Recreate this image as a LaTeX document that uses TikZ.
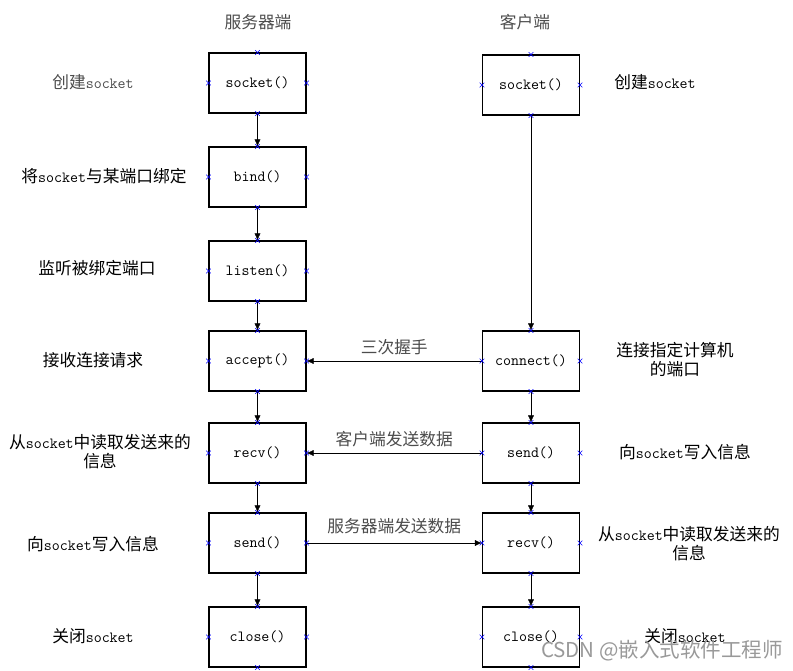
\documentclass[tikz,border=0pt]{standalone}
\usepackage{fontspec}
\newfontfamily\cjk[Scale=1.08]{Noto Sans CJK SC}
\newcommand{\zhs}[1]{{\cjk #1}}
\usetikzlibrary{shapes.misc,arrows.meta}
\begin{document}
\begin{tikzpicture}[x=1pt,y=-1pt,>={Latex[length=7pt,width=6pt]},
	every node/.style={font=\fontsize{15.5}{19}\selectfont\ttfamily},
	func/.style={draw,line width=1.1pt,minimum width=97pt,minimum height=60pt,inner sep=0pt},
	xpt/.style={cross out,draw=blue,minimum size=4pt,inner sep=0pt,line width=0.6pt},
	side/.style={align=center},
	lbl/.style={text=black!70}]
	\useasboundingbox (0,0) rectangle (793,671);
	% headings
	\node[lbl] (shead) at (258,22) {\zhs{服务器端}};
	\node[lbl] (chead) at (525,22) {\zhs{客户端}};
	% server side
	\node[func] (ssocket) at (257.5,83) {socket()};
	\node[func] (sbind) at (257.5,177) {bind()};
	\node[func] (slisten) at (257.5,271) {listen()};
	\node[func] (saccept) at (257.5,361) {accept()};
	\node[func] (srecv) at (257.5,453) {recv()};
	\node[func] (ssend) at (257.5,543) {send()};
	\node[func] (sclose) at (257.5,637) {close()};
	% client side
	\node[func] (csocket) at (531,85) {socket()};
	\node[func] (cconnect) at (531,361) {connect()};
	\node[func] (csend) at (531,453) {send()};
	\node[func] (crecv) at (531,543) {recv()};
	\node[func] (cclose) at (531,637) {close()};
	% side notes
	\node[lbl,side] (n1) at (93,82) {\zhs{创建}socket};
	\node[side] (n2) at (104,176) {\zhs{将}socket\zhs{与某端口绑定}};
	\node[side] (n3) at (97,268) {\zhs{监听被绑定端口}};
	\node[side] (n4) at (93,360) {\zhs{接收连接请求}};
	\node[side] (n5) at (100,452) {\zhs{从}socket\zhs{中读取发送来的}\\\zhs{信息}};
	\node[side] (n6) at (93,544) {\zhs{向}socket\zhs{写入信息}};
	\node[side] (n7) at (93,636) {\zhs{关闭}socket};
	\node[side] (m1) at (655,82) {\zhs{创建}socket};
	\node[side] (m2) at (675,360) {\zhs{连接指定计算机}\\\zhs{的端口}};
	\node[side] (m3) at (685,452) {\zhs{向}socket\zhs{写入信息}};
	\node[side] (m4) at (689,544) {\zhs{从}socket\zhs{中读取发送来的}\\\zhs{信息}};
	\node[side] (m5) at (685,636) {\zhs{关闭}socket};
	% flow
	\draw[->] (ssocket) -- (sbind);
	\draw[->] (sbind) -- (slisten);
	\draw[->] (slisten) -- (saccept);
	\draw[->] (saccept) -- (srecv);
	\draw[->] (srecv) -- (ssend);
	\draw[->] (ssend) -- (sclose);
	\draw[->] (csocket) -- (cconnect);
	\draw[->] (cconnect) -- (csend);
	\draw[->] (csend) -- (crecv);
	\draw[->] (crecv) -- (cclose);
	\draw[->] (cconnect) -- node[lbl,above=3pt] {\zhs{三次握手}} (saccept);
	\draw[->] (csend) -- node[lbl,above=3pt] {\zhs{客户端发送数据}} (srecv);
	\draw[->] (ssend) -- node[lbl,above=6pt] {\zhs{服务器端发送数据}} (crecv);
	% connection points
	\foreach \n in {ssocket,sbind,slisten,saccept,srecv,ssend,sclose,csocket,cconnect,csend,crecv,cclose}
		\foreach \a in {north,south,east,west}
			\node[xpt] at (\n.\a) {};
	\node[text=black!40,font=\fontsize{19}{22}\selectfont\cjk] (wmark) at (662,651) {CSDN @嵌入式软件工程师};
\end{tikzpicture}
\end{document}
